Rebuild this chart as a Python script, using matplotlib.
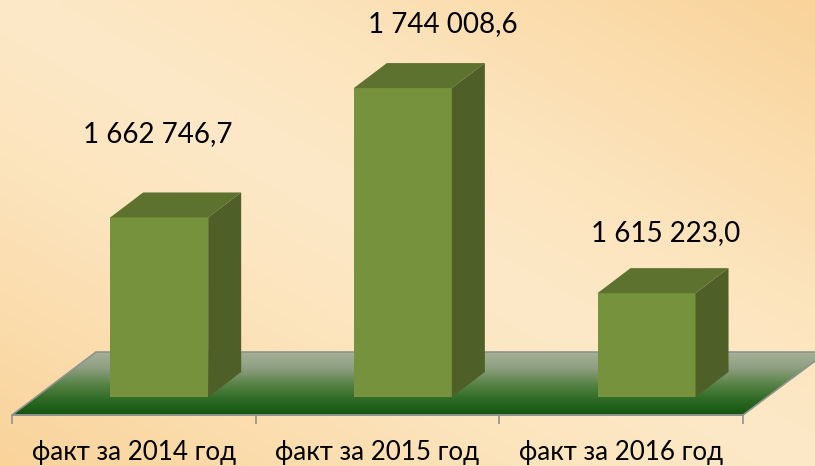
import numpy as np
import matplotlib
matplotlib.use("Agg")
import matplotlib.pyplot as plt
from matplotlib.colors import LinearSegmentedColormap
from matplotlib.patches import Polygon

plt.rcParams["font.family"] = ["Lato", "DejaVu Sans"]

categories = ["факт за 2014 год", "факт за 2015 год", "факт за 2016 год"]
values = [1662746.7, 1744008.6, 1615223.0]
value_labels = ["1 662 746,7", "1 744 008,6", "1 615 223,0"]

W, H = 815, 466
PX_X = 243.67  # pixels per category
PX_Y = 1 / 628.0  # pixels per value unit
base = 1550000
base_px = 397
left_px = 12

fig = plt.figure(figsize=(W / 100, H / 100), dpi=100)
ax = fig.add_axes([0, 0, 1, 1])
ax.set_xlim(-left_px / PX_X, (W - left_px) / PX_X)
ax.set_ylim(base - (H - base_px) / PX_Y, base + base_px / PX_Y)
xmin, xmax = ax.get_xlim()
ymin, ymax = ax.get_ylim()

# background: pale along the top left - bottom right diagonal, orange in the other two corners
gy, gx = np.mgrid[0:1:200j, 0:1:300j]
d = np.abs((gx - 0.5) - (gy - 0.5))
bg_cmap = LinearSegmentedColormap.from_list(
    "bg", ["#fde9c8", "#fce4bd", "#fbdcac", "#f9d39a"]
)
ax.imshow(d, cmap=bg_cmap, vmin=0, vmax=1, extent=[xmin, xmax, ymin, ymax],
          origin="upper", aspect="auto", zorder=0, interpolation="bilinear")
ax.set_xlim(xmin, xmax)
ax.set_ylim(ymin, ymax)

# depth of the fake 3d, in data units
depth_x = 33 / PX_X
depth_y = 25 / PX_Y
bar_w = 98 / PX_X
bar_off = 0.604

# floor
floor_y = base - 18 / PX_Y
floor_top = base + 45 / PX_Y
floor_dx = 84 / PX_X
floor_pts = [(0, floor_y), (3, floor_y), (3 + floor_dx, floor_top), (floor_dx, floor_top)]
floor_cmap = LinearSegmentedColormap.from_list(
    "floor", ["#a5b097", "#8f9f82", "#5a8448", "#2f6b25", "#14560f"]
)
grad = np.linspace(0, 1, 100).reshape(-1, 1)
im = ax.imshow(grad, cmap=floor_cmap, extent=[0, 3 + floor_dx, floor_y, floor_top],
               origin="upper", aspect="auto", zorder=1)
poly = Polygon(floor_pts, closed=True, transform=ax.transData, fc="none",
               ec="#8f938c", lw=1.2, zorder=2)
ax.add_patch(poly)
im.set_clip_path(poly)
ax.set_xlim(xmin, xmax)
ax.set_ylim(ymin, ymax)

# bars
for i, v in enumerate(values):
    x0 = i + bar_off - bar_w / 2
    x1 = x0 + bar_w
    ax.fill([x0, x1, x1, x0], [base, base, v, v], color="#76923c", lw=0, zorder=3)
    ax.fill([x0, x1, x1 + depth_x, x0 + depth_x],
            [v, v, v + depth_y, v + depth_y], color="#5e722f", lw=0, zorder=3)
    ax.fill([x1, x1 + depth_x, x1 + depth_x, x1],
            [base, base + depth_y, v + depth_y, v], color="#4e5f27", lw=0, zorder=3)

# value labels sit freely above the bars
label_off = [(-1, 83), (40, 64), (19, 60)]
for i, v in enumerate(values):
    ax.annotate(value_labels[i], (i + bar_off, v), xytext=label_off[i],
                textcoords="offset pixels", ha="center", va="center",
                fontsize=20, color="black", zorder=5)

# axis along the floor front edge
for s in ["top", "left", "right"]:
    ax.spines[s].set_visible(False)
ax.spines["bottom"].set_position(("data", floor_y))
ax.spines["bottom"].set_bounds(0, 3)
ax.spines["bottom"].set_color("#8f938c")
ax.spines["bottom"].set_linewidth(1.2)
ax.set_yticks([])
ax.set_xticks([0, 1, 2, 3])
ax.set_xticklabels([])
ax.set_xticks([0.5, 1.5, 2.5], minor=True)
ax.set_xticklabels(categories, minor=True, fontsize=18.7, color="black")
ax.tick_params(axis="x", which="major", length=6.5, width=1.2, color="#8f938c")
ax.tick_params(axis="x", which="minor", length=0, pad=18)

fig.savefig("out.png", dpi=100)
